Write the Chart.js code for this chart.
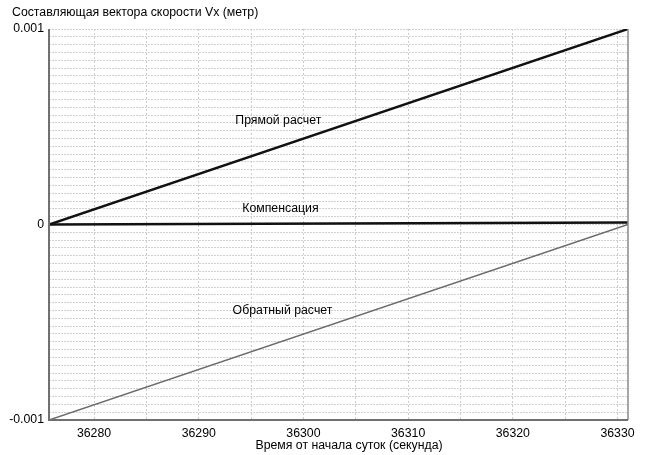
<!DOCTYPE html>
<html>
<head>
<meta charset="utf-8">
<script src="https://cdn.jsdelivr.net/npm/chart.js@4/dist/chart.umd.min.js"></script>
<style>
  html, body { margin: 0; padding: 0; background: #fff; }
  #wrap { width: 645px; height: 455px; }
</style>
</head>
<body>
<div id="wrap"><canvas id="c" width="645" height="455"></canvas></div>
<script>
// Time, seconds from the start of the day
const timeSec = [36275.7, 36331];
// Vx velocity component, metres
const directCalc = [0, 0.001];
const compensation = [0, 0.00001];
const reverseCalc = [-0.001, 0];

const xLabelTicks = [36280, 36290, 36300, 36310, 36320, 36330];
const yLabelTicks = [-0.001, 0, 0.001];

const seriesNames = ['Прямой расчет', 'Компенсация', 'Обратный расчет'];
// label anchor points in data units
const labelX = [36297.6, 36297.8, 36298.0];
const labelY = [0.000532, 0.00008, -0.00044];

const yTitle = 'Составляющая вектора скорости Vx (метр)';
const xTitle = 'Время от начала суток (секунда)';

const FONT = '"Liberation Sans", Arial, sans-serif';
const FSIZE = 12.3;

function pts(ys) { return timeSec.map((t, i) => ({ x: t, y: ys[i] })); }

// grid every 5 s on x, every 0.00004 on y
const xGrid = [];
for (let t = 36280; t <= 36330; t += 5) xGrid.push(t);
const yGrid = [];
for (let k = -25; k <= 25; k++) yGrid.push(Math.round(k * 4) / 100000);

const decor = {
  id: 'decor',
  afterDraw(chart) {
    const { ctx, chartArea: a, scales } = chart;
    ctx.save();
    // right frame
    ctx.strokeStyle = '#8a8a8a';
    ctx.lineWidth = 1.5;
    ctx.beginPath();
    ctx.moveTo(a.right, a.top);
    ctx.lineTo(a.right, a.bottom);
    ctx.stroke();
    // left and bottom frame
    ctx.strokeStyle = '#707070';
    ctx.lineWidth = 2;
    ctx.beginPath();
    ctx.moveTo(a.left, a.top);
    ctx.lineTo(a.left, a.bottom);
    ctx.lineTo(a.right, a.bottom);
    ctx.stroke();

    ctx.fillStyle = '#000';
    ctx.font = FSIZE + 'px ' + FONT;
    ctx.textBaseline = 'middle';
    ctx.textAlign = 'center';
    seriesNames.forEach((n, i) => {
      ctx.fillText(n, scales.x.getPixelForValue(labelX[i]), scales.y.getPixelForValue(labelY[i]));
    });
    ctx.textAlign = 'left';
    ctx.fillText(yTitle, 12, 13);
    ctx.textAlign = 'center';
    ctx.fillText(xTitle, 349, 446);
    ctx.restore();
  }
};

new Chart(document.getElementById('c'), {
  type: 'scatter',
  data: {
    datasets: [
      { label: seriesNames[0], data: pts(directCalc), showLine: true, borderColor: '#111', borderWidth: 2.5, pointRadius: 0 },
      { label: seriesNames[1], data: pts(compensation), showLine: true, borderColor: '#111', borderWidth: 2.5, pointRadius: 0 },
      { label: seriesNames[2], data: pts(reverseCalc), showLine: true, borderColor: '#6a6a6a', borderWidth: 1.5, pointRadius: 0 }
    ]
  },
  options: {
    responsive: false,
    animation: false,
    events: [],
    layout: { padding: { top: 29, right: 17, bottom: 0, left: 0 } },
    plugins: { legend: { display: false }, tooltip: { enabled: false }, title: { display: false } },
    scales: {
      x: {
        type: 'linear',
        min: timeSec[0],
        max: timeSec[timeSec.length - 1],
        afterBuildTicks(s) { s.ticks = xGrid.map(v => ({ value: v })); },
        afterFit(s) { s.height = 35; },
        border: { display: false, dash: [2, 2] },
        grid: { color: '#cccccc', lineWidth: 1, drawTicks: false },
        ticks: {
          padding: 6,
          color: '#000',
          font: { family: FONT, size: FSIZE },
          maxRotation: 0,
          autoSkip: false,
          callback: v => xLabelTicks.includes(v) ? String(v) : ''
        }
      },
      y: {
        type: 'linear',
        min: yLabelTicks[0],
        max: yLabelTicks[yLabelTicks.length - 1],
        afterBuildTicks(s) { s.ticks = yGrid.map(v => ({ value: v })); },
        afterFit(s) { s.width = 49; },
        border: { display: false, dash: [2, 1] },
        grid: { color: '#d0d0d0', lineWidth: 1, drawTicks: false },
        ticks: {
          padding: 5,
          color: '#000',
          font: { family: FONT, size: FSIZE },
          autoSkip: false,
          callback: v => yLabelTicks.some(t => Math.abs(t - v) < 1e-9) ? (Math.abs(v) < 1e-9 ? '0' : String(v)) : ''
        }
      }
    }
  },
  plugins: [decor]
});
</script>
</body>
</html>
